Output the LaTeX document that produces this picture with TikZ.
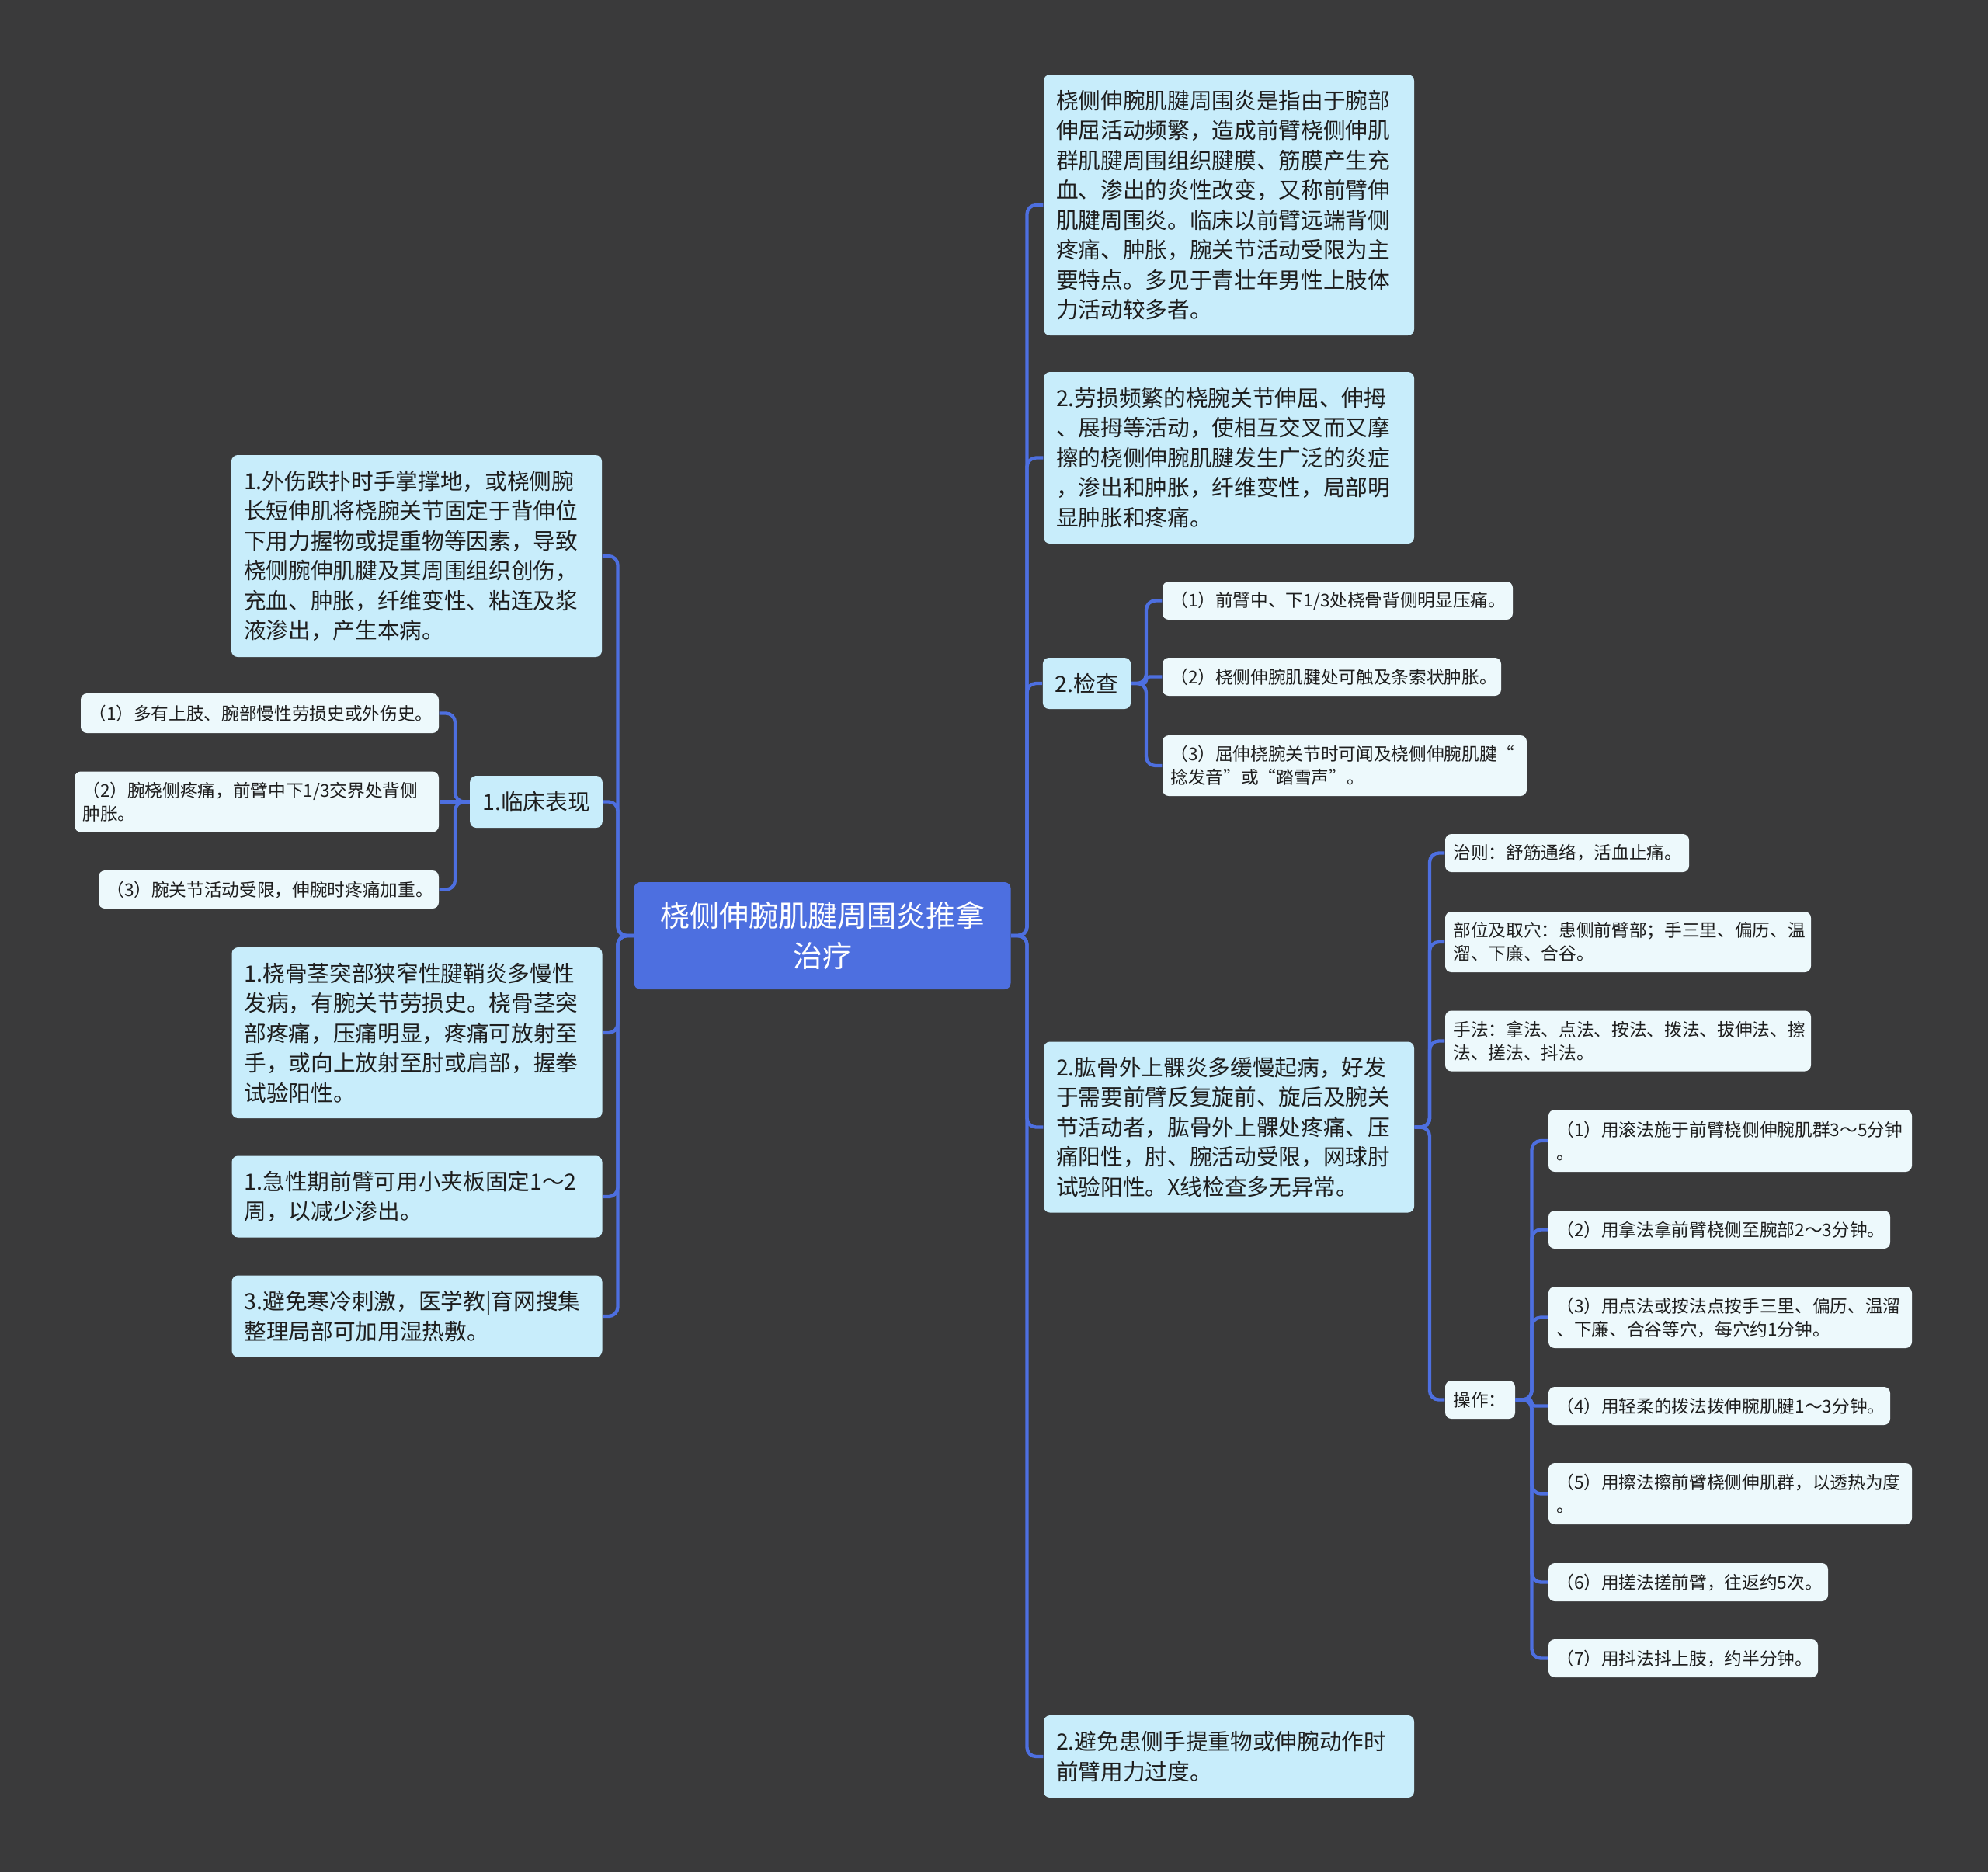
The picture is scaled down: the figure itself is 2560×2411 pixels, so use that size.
\documentclass[tikz,border=0pt]{standalone}
\usepackage{fontspec}
\setmainfont{Noto Sans CJK SC}
\definecolor{bgcol}{HTML}{3A3A3B}
\definecolor{rootcol}{HTML}{4D6FE0}
\definecolor{midcol}{HTML}{C8EDFB}
\definecolor{leafcol}{HTML}{EDF9FC}
\definecolor{inkcol}{HTML}{1E1E1E}

\begin{document}
\begin{tikzpicture}[x=0.3pt,y=-0.3pt,
  box/.style={rounded corners=2.4pt,align=left,inner ysep=0pt,text=inkcol},
  topic/.style={box,fill=midcol,inner xsep=4.8pt,font=\fontsize{8.6pt}{11.55pt}\selectfont},
  leaf/.style={box,fill=leafcol,inner xsep=3.1pt,font=\fontsize{6.8pt}{9pt}\selectfont},
  link/.style={draw=rootcol,line width=1.3pt,rounded corners=3.5pt}]
\useasboundingbox (0,0) rectangle (2560,2411);
\fill[bgcol] (0,0) rectangle (2560,2411);

\node[fill=rootcol,text=white,rounded corners=2.4pt,minimum width=145.5pt,minimum height=41.4pt,align=center,font=\fontsize{11.4pt}{15.6pt}\selectfont] (root) at (1059,1205) {桡侧伸腕肌腱周围炎推拿\\治疗};

\node[topic,text width=133.5pt,minimum height=100.8pt] (r1) at (1582.5,264) {桡侧伸腕肌腱周围炎是指由于腕部\\伸屈活动频繁，造成前臂桡侧伸肌\\群肌腱周围组织腱膜、筋膜产生充\\血、渗出的炎性改变，又称前臂伸\\肌腱周围炎。临床以前臂远端背侧\\疼痛、肿胀，腕关节活动受限为主\\要特点。多见于青壮年男性上肢体\\力活动较多者。};
\node[topic,text width=133.5pt,minimum height=66.3pt] (r2) at (1582.5,589.5) {2.劳损频繁的桡腕关节伸屈、伸拇\\、展拇等活动，使相互交叉而又摩\\擦的桡侧伸腕肌腱发生广泛的炎症\\，渗出和肿胀，纤维变性，局部明\\显肿胀和疼痛。};
\node[topic,align=center,minimum width=33.3pt,minimum height=19.8pt] (r3) at (1399.5,880) {2.检查};
\node[topic,text width=133.5pt,minimum height=66pt] (r4) at (1582.5,1451.5) {2.肱骨外上髁炎多缓慢起病，好发\\于需要前臂反复旋前、旋后及腕关\\节活动者，肱骨外上髁处疼痛、压\\痛阳性，肘、腕活动受限，网球肘\\试验阳性。X线检查多无异常。};
\node[topic,text width=133.5pt,minimum height=31.8pt] (r5) at (1582.5,2262) {2.避免患侧手提重物或伸腕动作时\\前臂用力过度。};

\node[leaf,text width=129.1pt,minimum height=14.7pt] (c1) at (1722.5,773.5) {（1）前臂中、下1/3处桡骨背侧明显压痛。};
\node[leaf,text width=124.6pt,minimum height=14.7pt] (c2) at (1715,871.5) {（2）桡侧伸腕肌腱处可触及条索状肿胀。};
\node[leaf,text width=134.5pt,minimum height=23.4pt] (c3) at (1731.5,986) {（3）屈伸桡腕关节时可闻及桡侧伸腕肌腱“\\捻发音”或“踏雪声”。};

\node[leaf,text width=88pt,minimum height=14.7pt] (d1) at (2018,1098.5) {治则：舒筋通络，活血止痛。};
\node[leaf,text width=135.1pt,minimum height=23.4pt] (d2) at (2096.5,1213) {部位及取穴：患侧前臂部；手三里、偏历、温\\溜、下廉、合谷。};
\node[leaf,text width=135.1pt,minimum height=23.4pt] (d3) at (2096.5,1340.5) {手法：拿法、点法、按法、拨法、拔伸法、擦\\法、搓法、抖法。};
\node[leaf,text width=20.8pt,minimum height=14.7pt] (d4) at (1906,1802.5) {操作：};

\node[leaf,text width=134.2pt,minimum height=24pt] (e1) at (2228,1469) {（1）用滚法施于前臂桡侧伸腕肌群3～5分钟\\。};
\node[leaf,text width=125.8pt,minimum height=14.7pt] (e2) at (2214,1583.5) {（2）用拿法拿前臂桡侧至腕部2～3分钟。};
\node[leaf,text width=134.2pt,minimum height=23.7pt] (e3) at (2228,1696.5) {（3）用点法或按法点按手三里、偏历、温溜\\、下廉、合谷等穴，每穴约1分钟。};
\node[leaf,text width=125.8pt,minimum height=14.7pt] (e4) at (2214,1810.5) {（4）用轻柔的拨法拨伸腕肌腱1～3分钟。};
\node[leaf,text width=134.2pt,minimum height=23.7pt] (e5) at (2228,1923.5) {（5）用擦法擦前臂桡侧伸肌群，以透热为度\\。};
\node[leaf,text width=101.8pt,minimum height=14.7pt] (e6) at (2174,2037.5) {（6）用搓法搓前臂，往返约5次。};
\node[leaf,text width=97.9pt,minimum height=14.7pt] (e7) at (2167.5,2135.5) {（7）用抖法抖上肢，约半分钟。};

\node[topic,text width=133.5pt,minimum height=78pt] (l1) at (536.5,716) {1.外伤跌扑时手掌撑地，或桡侧腕\\长短伸肌将桡腕关节固定于背伸位\\下用力握物或提重物等因素，导致\\桡侧腕伸肌腱及其周围组织创伤，\\充血、肿胀，纤维变性、粘连及浆\\液渗出，产生本病。};
\node[topic,align=center,minimum width=50.1pt,minimum height=20.1pt] (l2) at (690.5,1032.5) {1.临床表现};
\node[topic,text width=133.5pt,minimum height=66pt] (l3) at (537,1330) {1.桡骨茎突部狭窄性腱鞘炎多慢性\\发病，有腕关节劳损史。桡骨茎突\\部疼痛，压痛明显，疼痛可放射至\\手，或向上放射至肘或肩部，握拳\\试验阳性。};
\node[topic,text width=133.5pt,minimum height=31.5pt] (l4) at (537,1541) {1.急性期前臂可用小夹板固定1～2\\周，以减少渗出。};
\node[topic,text width=133.5pt,minimum height=31.5pt] (l5) at (537,1695) {3.避免寒冷刺激，医学教|育网搜集\\整理局部可加用湿热敷。};

\node[leaf,text width=132.1pt,minimum height=15.3pt] (f1) at (334.5,918.5) {（1）多有上肢、腕部慢性劳损史或外伤史。};
\node[leaf,text width=134.5pt,minimum height=23.4pt] (f2) at (330.5,1032.5) {（2）腕桡侧疼痛，前臂中下1/3交界处背侧\\肿胀。};
\node[leaf,text width=125.2pt,minimum height=14.7pt] (f3) at (346,1145.5) {（3）腕关节活动受限，伸腕时疼痛加重。};

\coordinate (rt) at (1322.5,1205);
\coordinate (lt) at (795.5,1205);
\coordinate (ct) at (1476,880);
\coordinate (dt) at (1841,1451.5);
\coordinate (et) at (1972.5,1802.5);
\coordinate (ft) at (586,1032.5);

\foreach \n in {r1,r2,r3,r4,r5} \draw[link] (root.east) -- (rt) |- (\n.west);
\foreach \n in {l1,l2,l3,l4,l5} \draw[link] (root.west) -- (lt) |- (\n.east);
\foreach \n in {c1,c3} \draw[link] (r3.east) -- (ct) |- (\n.west);
\draw[link,rounded corners=1.2pt] (r3.east) -- (ct) |- (c2.west);
\foreach \n in {d1,d2,d3,d4} \draw[link] (r4.east) -- (dt) |- (\n.west);
\foreach \n in {e1,e2,e3,e5,e6,e7} \draw[link] (d4.east) -- (et) |- (\n.west);
\draw[link,rounded corners=1.2pt] (d4.east) -- (et) |- (e4.west);
\foreach \n in {f1,f3} \draw[link] (l2.west) -- (ft) |- (\n.east);
\draw[link] (l2.west) -- (f2.east);
\end{tikzpicture}
\end{document}
